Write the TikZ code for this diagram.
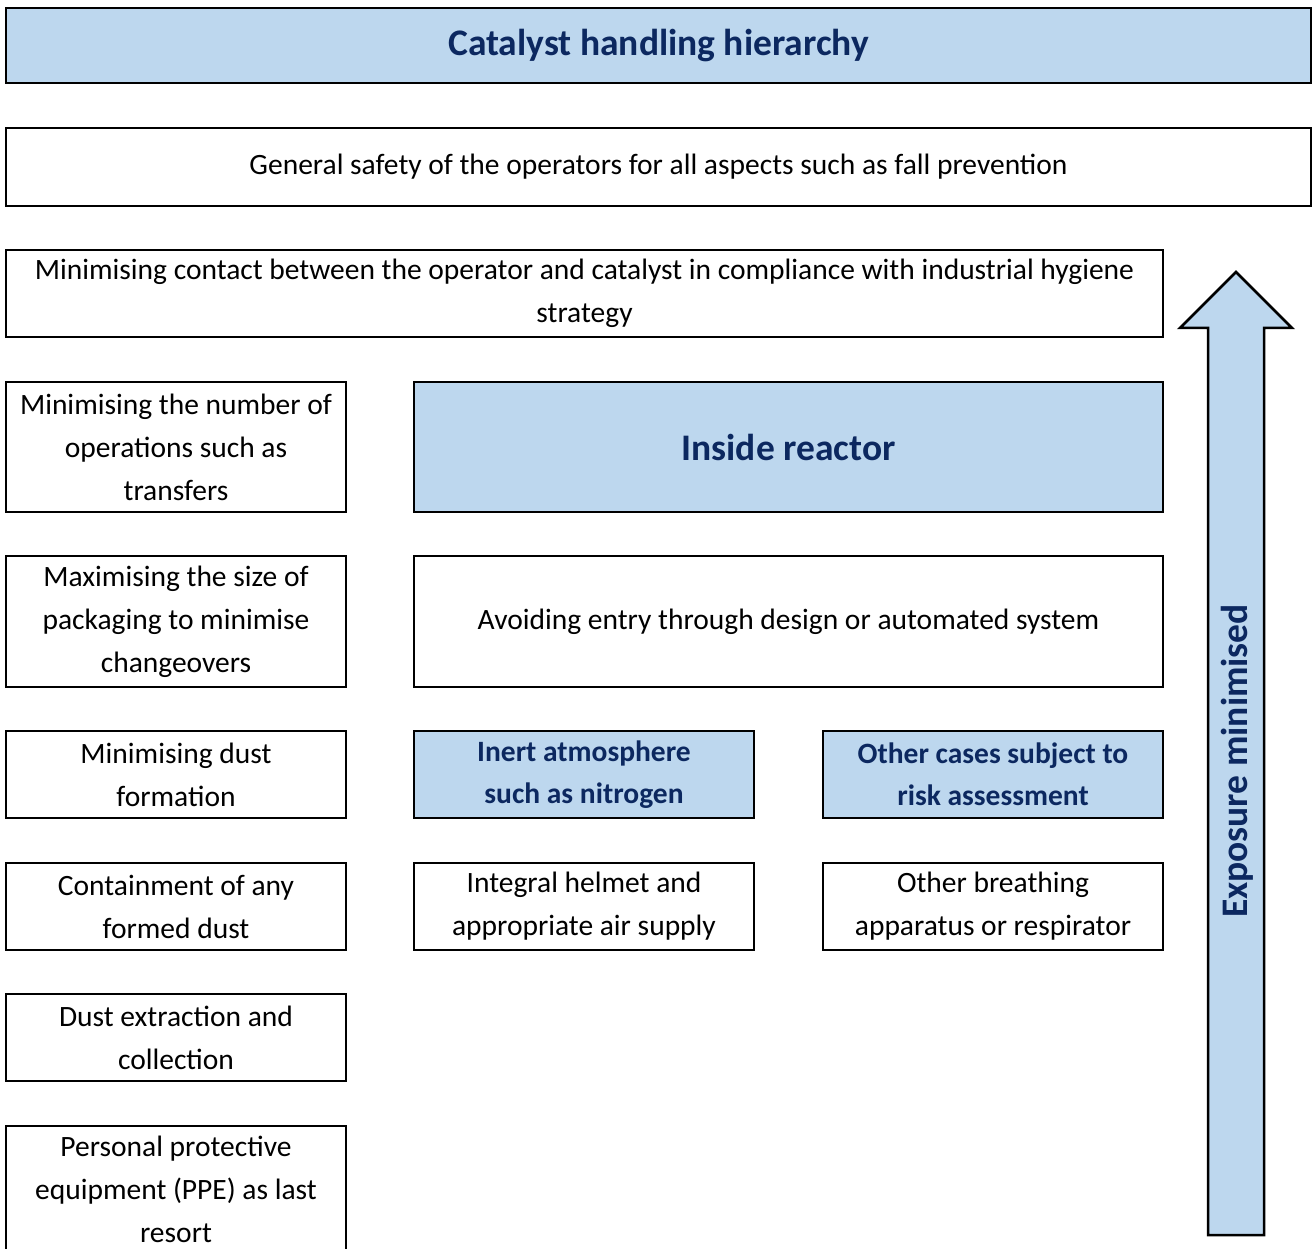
\documentclass[tikz,border=0pt]{standalone}
\usepackage{fontspec}
\setmainfont{Carlito}
\definecolor{lblue}{HTML}{BDD7EE}
\definecolor{dblue}{RGB}{12,40,96}
\begin{document}
\begin{tikzpicture}[x=1pt,y=-1pt,
  box/.style={draw=black,line width=2pt,inner sep=0pt,align=center,
    font=\fontsize{29.5}{43}\selectfont},
  bluebox/.style={box,fill=lblue,text=dblue,font=\fontsize{29.5}{42}\selectfont\bfseries},
  bigtext/.style={font=\fontsize{37.5}{44}\selectfont\bfseries},
]
\useasboundingbox (0,0) rectangle (1312,1249);
% title
\node[box,fill=lblue,text=dblue,bigtext,
  minimum width=1305,minimum height=75] (title) at (658.5,45.5) {Catalyst handling hierarchy};
\node[box,minimum width=1305,minimum height=78] (general) at (658.5,167)
  {General safety of the operators for all aspects such as fall prevention};
\node[box,minimum width=1157,minimum height=87] (contact) at (584.5,293.5)
  {Minimising contact between the operator and catalyst in compliance with industrial hygiene\\strategy};
% left column
\node[box,minimum width=340,minimum height=130] (ops) at (176,447)
  {Minimising the number of\\operations such as\\transfers};
\node[box,minimum width=340,minimum height=131] (pack) at (176,621.5)
  {Maximising the size of\\packaging to minimise\\changeovers};
\node[box,minimum width=340,minimum height=87] (dust) at (176,774.5)
  {Minimising dust\\formation};
\node[box,minimum width=340,minimum height=87] (contain) at (176,906.5)
  {Containment of any\\formed dust};
\node[box,minimum width=340,minimum height=87] (extract) at (176,1037.5)
  {Dust extraction and\\collection};
\node[box,minimum width=340,minimum height=126] (ppe) at (176,1189)
  {Personal protective\\equipment (PPE) as last\\resort};
% right part
\node[bluebox,bigtext,minimum width=749,minimum height=130] (inside) at (788.5,447)
  {Inside reactor};
\node[box,minimum width=749,minimum height=131] (avoid) at (788.5,621.5)
  {Avoiding entry through design or automated system};
\node[bluebox,minimum width=340,minimum height=87] (inert) at (584,774.5)
  {Inert atmosphere\\such as nitrogen};
\node[bluebox,minimum width=340,minimum height=87] (other) at (993,774.5)
  {Other cases subject to\\risk assessment};
\node[box,minimum width=340,minimum height=87] (helmet) at (584,906.5)
  {Integral helmet and\\appropriate air supply};
\node[box,minimum width=340,minimum height=87] (breath) at (993,906.5)
  {Other breathing\\apparatus or respirator};
% arrow
\draw[line width=2.5pt,fill=lblue,line join=miter]
  (1236,272) -- (1292,328) -- (1264,328) -- (1264,1235) -- (1208,1235)
  -- (1208,328) -- (1180,328) -- cycle;
\node[rotate=90,text=dblue,bigtext,inner sep=0pt] (expo) at (1237,761)
  {Exposure minimised};
\end{tikzpicture}
\end{document}
